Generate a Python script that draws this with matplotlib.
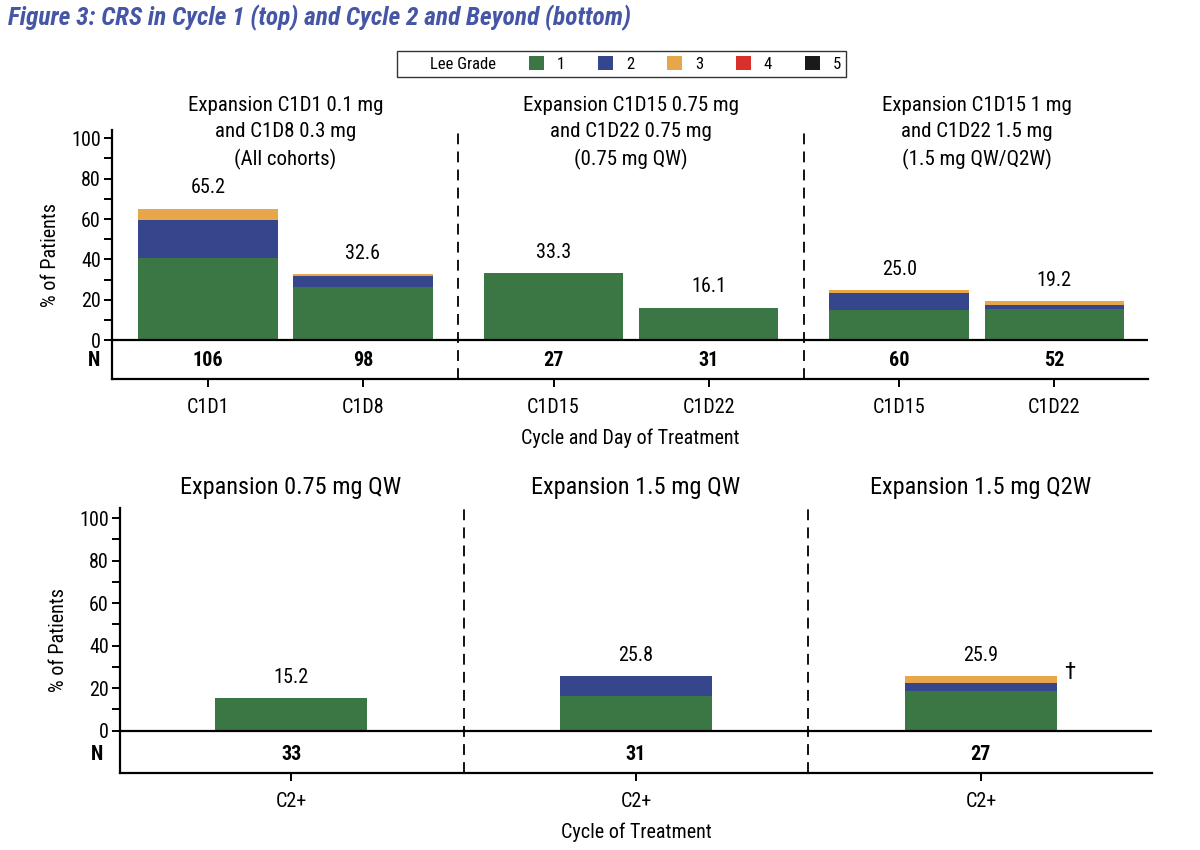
import matplotlib
matplotlib.use("Agg")
import matplotlib.pyplot as plt
from matplotlib.patches import Patch
from matplotlib.ticker import FixedLocator
from matplotlib import font_manager

# pick a condensed family if one is installed, else Liberation Sans
condensed = None
for fam in ['Liberation Sans Narrow', 'Roboto Condensed', 'Arial Narrow']:
    try:
        font_manager.findfont(font_manager.FontProperties(family=fam), fallback_to_default=False)
        condensed = fam
        break
    except Exception:
        pass

if condensed:
    plt.rcParams['font.family'] = [condensed, 'Liberation Sans', 'DejaVu Sans']
    S = dict(txt=14.5, tgrp=15, bgrp=17.5, title=18.3, leg=12, lab=14.5)
else:
    plt.rcParams['font.family'] = ['Liberation Sans', 'DejaVu Sans']
    S = dict(txt=13, tgrp=13.2, bgrp=15, title=14.8, leg=11, lab=13)

# ---------------- data ----------------
grades = ['1', '2', '3', '4', '5']
grade_colors = ['#3a7745', '#36468c', '#e8a64a', '#d9302c', '#1a1a1a']

top_categories = ['C1D1', 'C1D8', 'C1D15', 'C1D22', 'C1D15', 'C1D22']
top_n = [106, 98, 27, 31, 60, 52]
top_totals = [65.2, 32.6, 33.3, 16.1, 25.0, 19.2]
top_g1 = [40.6, 26.5, 33.3, 16.1, 15.0, 15.4]
top_g2 = [18.9, 5.1, 0.0, 0.0, 8.3, 1.9]
top_g3 = [5.7, 1.0, 0.0, 0.0, 1.7, 1.9]
top_g4 = [0.0, 0.0, 0.0, 0.0, 0.0, 0.0]
top_g5 = [0.0, 0.0, 0.0, 0.0, 0.0, 0.0]
top_groups = ['Expansion C1D1 0.1 mg\nand C1D8 0.3 mg\n(All cohorts)',
              'Expansion C1D15 0.75 mg\nand C1D22 0.75 mg\n(0.75 mg QW)',
              'Expansion C1D15 1 mg\nand C1D22 1.5 mg\n(1.5 mg QW/Q2W)']

bot_categories = ['C2+', 'C2+', 'C2+']
bot_n = [33, 31, 27]
bot_totals = [15.2, 25.8, 25.9]
bot_g1 = [15.2, 16.1, 18.5]
bot_g2 = [0.0, 9.7, 3.7]
bot_g3 = [0.0, 0.0, 3.7]
bot_g4 = [0.0, 0.0, 0.0]
bot_g5 = [0.0, 0.0, 0.0]
bot_groups = ['Expansion 0.75 mg QW', 'Expansion 1.5 mg QW', 'Expansion 1.5 mg Q2W']
bot_markers = ['', '', '\u2020']

# ---------------- layout ----------------
top_x = [0, 1, 2.23, 3.23, 4.46, 5.46]
top_group_x = [0.5, 2.73, 4.96]
top_sep_x = [1.615, 3.845]
bot_x = [0, 1, 2]
bot_sep_x = [0.5, 1.5]

fig = plt.figure(figsize=(12, 8.5), dpi=100)
ax1 = fig.add_axes([0.0933, 0.5541, 0.8634, 0.2929])
ax2 = fig.add_axes([0.1000, 0.0909, 0.8600, 0.3115])

TXT = S['txt']


def draw_panel(ax, xs, cats, n, totals, layers, width, ylim, xlim, seps, xlabel, nrow_y,
               n_x, markers=None):
    bottom = [0.0] * len(xs)
    for vals, col in zip(layers, grade_colors):
        ax.bar(xs, vals, width=width, bottom=bottom, color=col, edgecolor='none', zorder=2)
        bottom = [b + v for b, v in zip(bottom, vals)]
    for i, (x, t) in enumerate(zip(xs, totals)):
        ax.annotate(f'{t:.1f}', (x, t), xytext=(0, 8), textcoords='offset points',
                    ha='center', va='bottom', fontsize=TXT)
        if markers and markers[i]:
            ax.annotate(markers[i], (x + width / 2, t), xytext=(5, -6), textcoords='offset points',
                        ha='left', va='bottom', fontsize=TXT + 2)
        ax.text(x, nrow_y, str(n[i]), ha='center', va='center', fontsize=TXT, fontweight='bold')
    ax.text(n_x, nrow_y, 'N', transform=ax.get_yaxis_transform(), ha='right', va='center',
            fontsize=TXT, fontweight='bold')
    ax.axhline(0, color='black', lw=1.6, zorder=3)
    for s in seps:
        ax.axvline(s, color='black', lw=1.3, ls=(0, (6, 4)), zorder=1)
    ax.set_ylim(*ylim)
    ax.set_xlim(*xlim)
    ax.set_yticks([0, 20, 40, 60, 80, 100])
    ax.yaxis.set_minor_locator(FixedLocator([10, 30, 50, 70, 90]))
    ax.set_xticks(xs)
    ax.set_xticklabels(cats)
    for side in ['top', 'right']:
        ax.spines[side].set_visible(False)
    for side in ['left', 'bottom']:
        ax.spines[side].set_linewidth(1.6)
    ax.tick_params(axis='y', which='major', length=6, width=1.4, labelsize=TXT, pad=2)
    ax.tick_params(axis='y', which='minor', length=6, width=1.4)
    ax.tick_params(axis='x', length=6, width=1.4, labelsize=TXT, pad=8)
    ax.set_ylabel('% of Patients', fontsize=S['lab'])
    ax.set_xlabel(xlabel, fontsize=S['lab'], labelpad=8)
    ax.yaxis.set_label_coords(-0.05, 0.5)


draw_panel(ax1, top_x, top_categories, top_n, top_totals,
           [top_g1, top_g2, top_g3, top_g4, top_g5], 0.9,
           (-19.3, 104.1), (-0.619, 6.065), top_sep_x,
           'Cycle and Day of Treatment', -9.9, -0.011)
for gx, gt in zip(top_group_x, top_groups):
    ax1.text(gx, 102.6, gt, ha='center', va='center', fontsize=S['tgrp'], linespacing=1.45,
             clip_on=False)

draw_panel(ax2, bot_x, bot_categories, bot_n, bot_totals,
           [bot_g1, bot_g2, bot_g3, bot_g4, bot_g5], 0.443,
           (-19.8, 104.8), (-0.496, 2.496), bot_sep_x,
           'Cycle of Treatment', -11.4, -0.016, markers=bot_markers)
for gx, gt in zip(bot_x, bot_groups):
    ax2.text(gx, 114.3, gt, ha='center', va='center', fontsize=S['bgrp'], clip_on=False)

# title
fig.text(0.007, 0.979, 'Figure 3: CRS in Cycle 1 (top) and Cycle 2 and Beyond (bottom)',
         ha='left', va='center', fontsize=S['title'], fontweight='bold', fontstyle='italic',
         color='#4556a6')

# legend
handles = [Patch(visible=False)] + [Patch(facecolor=c, edgecolor='none') for c in grade_colors]
labels = ['Lee Grade'] + grades
leg = fig.legend(handles, labels, loc='center', bbox_to_anchor=(0.518, 0.925), ncol=6,
                 fontsize=S['leg'], frameon=True, fancybox=False, edgecolor='black',
                 handlelength=0.9, handleheight=0.9, handletextpad=0.8, columnspacing=1.95,
                 borderpad=0.3, borderaxespad=0)
leg.get_frame().set_linewidth(1.0)

fig.savefig('out.png', dpi=100)
